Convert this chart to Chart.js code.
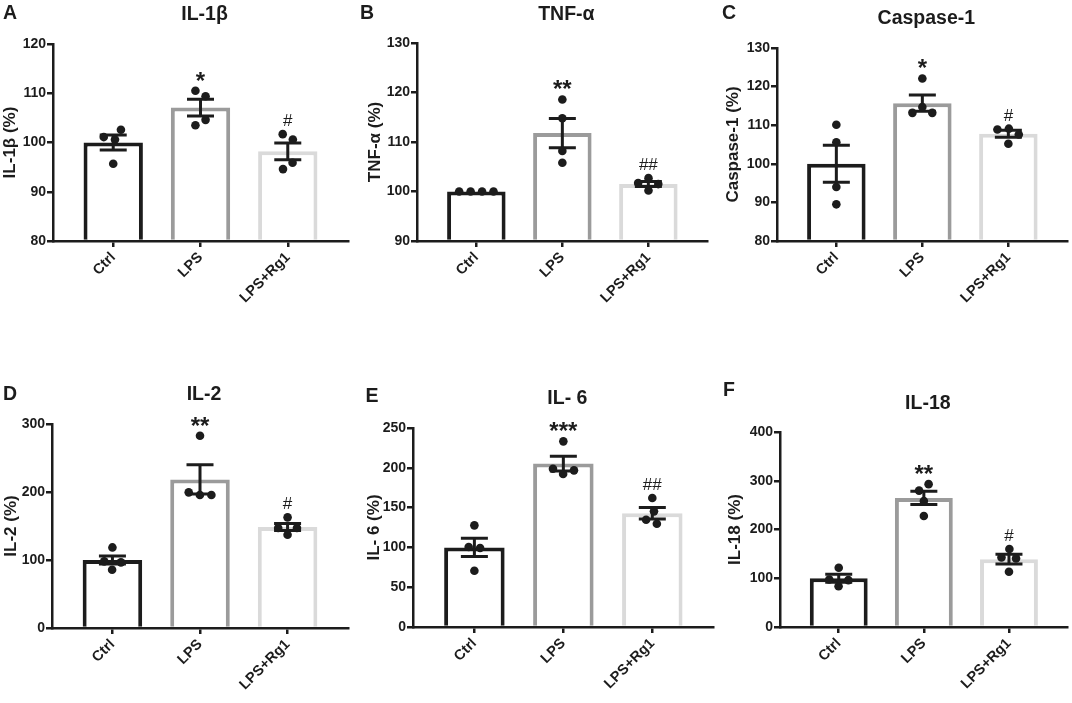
<!DOCTYPE html>
<html><head><meta charset="utf-8">
<script src="https://cdn.jsdelivr.net/npm/chart.js@4.4.1/dist/chart.umd.min.js"></script>
<style>
html,body{margin:0;padding:0;background:#fff;}
#wrap{position:relative;width:1072px;height:703px;overflow:hidden;background:#fff;}
canvas{position:absolute;}
</style></head><body><div id="wrap"></div>
<script>
// ---------------- DATA ----------------
const categories = ['Ctrl', 'LPS', 'LPS+Rg1'];

// A: IL-1β
const il1bTitle = 'IL-1β';
const il1bAxisTitle = 'IL-1β (%)';
const il1bTicks = [80, 90, 100, 110, 120];
const il1bMean = [100.0, 107.1, 98.2];
const il1bSem = [1.5, 1.7, 1.7];
const il1bPoints = [[100.6, 101.1, 102.6, 95.7], [109.4, 110.5, 104.6, 103.5], [100.6, 101.7, 95.9, 94.6]];
const il1bSig = ['', '*', '#'];

// B: TNF-α
const tnfTitle = 'TNF-α';
const tnfAxisTitle = 'TNF-α (%)';
const tnfTicks = [90, 100, 110, 120, 130];
const tnfMean = [100.0, 111.8, 101.5];
const tnfSem = [0, 2.95, 0.5];
const tnfPoints = [[100, 100, 100, 100], [118.6, 114.8, 108.2, 105.8], [102.7, 101.7, 101.5, 100.2]];
const tnfSig = ['', '**', '##'];

// C: Caspase-1
const caspTitle = 'Caspase-1';
const caspAxisTitle = 'Caspase-1 (%)';
const caspTicks = [80, 90, 100, 110, 120, 130];
const caspMean = [100.0, 115.7, 107.8];
const caspSem = [4.8, 2.1, 0.9];
const caspPoints = [[110.1, 105.6, 94.0, 89.5], [122.1, 114.7, 113.2, 113.2], [109.1, 108.9, 107.6, 105.2]];
const caspSig = ['', '*', '#'];

// D: IL-2
const il2Title = 'IL-2';
const il2AxisTitle = 'IL-2 (%)';
const il2Ticks = [0, 100, 200, 300];
const il2Mean = [100.0, 218.4, 148.5];
const il2Sem = [6.0, 21.5, 5.3];
const il2Points = [[118.5, 85.7, 98.0, 96.5], [282.8, 195.6, 199.5, 195.6], [162.7, 137.2, 147.0, 147.0]];
const il2Sig = ['', '**', '#'];

// E: IL- 6
const il6Title = 'IL- 6';
const il6AxisTitle = 'IL- 6 (%)';
const il6Ticks = [0, 50, 100, 150, 200, 250];
const il6Mean = [100.0, 205.3, 143.0];
const il6Sem = [11.5, 9.2, 7.2];
const il6Points = [[127.7, 99.2, 100.5, 70.7], [233.2, 192.2, 198.9, 196.8], [162.1, 145.3, 134.8, 129.8]];
const il6Sig = ['', '***', '##'];

// F: IL-18
const il18Title = 'IL-18';
const il18AxisTitle = 'IL-18 (%)';
const il18Ticks = [0, 100, 200, 300, 400];
const il18Mean = [100.0, 264.8, 139.2];
const il18Sem = [8.0, 13.7, 10.2];
const il18Points = [[121.4, 83.7, 97.5, 96.1], [293.0, 279.8, 258.6, 227.8], [159.9, 142.8, 140.7, 113.2]];
const il18Sig = ['', '**', '#'];

// ---------------- STYLE / LAYOUT ----------------
const FONT = "'Liberation Sans', Arial, Helvetica, sans-serif";
const INK = '#1c1c1c';
const barColors = ['#1c1c1c', '#9b9b9b', '#dadada'];
const XMIN = -0.69, XMAX = 2.69;
const DOT_GAP = 11.5;

const panels = [
  {letter:'A', title:il1bTitle, yTitle:il1bAxisTitle, ticks:il1bTicks, mean:il1bMean, sem:il1bSem, points:il1bPoints, sig:il1bSig,
   box:{x:0,y:0,w:355,h:335}, plot:{l:53,r:348,t:44,b:241}, yTitlePad:0.2, titleY:13.3, letterPos:[10,12]},
  {letter:'B', title:tnfTitle, yTitle:tnfAxisTitle, ticks:tnfTicks, mean:tnfMean, sem:tnfSem, points:tnfPoints, sig:tnfSig,
   box:{x:355,y:0,w:357,h:335}, plot:{l:417,r:709,t:43,b:241}, yTitlePad:10.2, titleY:12.7, letterPos:[367,12]},
  {letter:'C', title:caspTitle, yTitle:caspAxisTitle, ticks:caspTicks, mean:caspMean, sem:caspSem, points:caspPoints, sig:caspSig,
   box:{x:712,y:0,w:360,h:335}, plot:{l:777,r:1068,t:48,b:241}, yTitlePad:10.7, titleY:16.7, letterPos:[729,12]},
  {letter:'D', title:il2Title, yTitle:il2AxisTitle, ticks:il2Ticks, mean:il2Mean, sem:il2Sem, points:il2Points, sig:il2Sig,
   box:{x:0,y:335,w:355,h:368}, plot:{l:52,r:348,t:424,b:628}, yTitlePad:1.0, titleY:393.3, letterPos:[10,393]},
  {letter:'E', title:il6Title, yTitle:il6AxisTitle, ticks:il6Ticks, mean:il6Mean, sem:il6Sem, points:il6Points, sig:il6Sig,
   box:{x:355,y:335,w:363,h:368}, plot:{l:413,r:715,t:428,b:627}, yTitlePad:9.2, titleY:396.7, letterPos:[372,395]},
  {letter:'F', title:il18Title, yTitle:il18AxisTitle, ticks:il18Ticks, mean:il18Mean, sem:il18Sem, points:il18Points, sig:il18Sig,
   box:{x:712,y:335,w:360,h:368}, plot:{l:780,r:1068,t:432,b:627}, yTitlePad:13.2, titleY:401.7, letterPos:[729,389]}
];

// beeswarm-like spreading of replicate dots (pixel offsets computed from the values)
function swarm(values, pxPerY, D) {
  const placed = [];
  values.forEach(v => {
    const y = v * pxPerY;
    const blocks = [];
    placed.forEach(p => {
      const dy = Math.abs(p.y - y);
      if (dy < D) { const h = Math.sqrt(D * D - dy * dy); blocks.push([p.x - h, p.x + h]); }
    });
    const cands = [0];
    blocks.forEach(b => cands.push(b[0], b[1]));
    cands.sort((a, b) => (Math.abs(a) - Math.abs(b)) || (a - b));
    const x = cands.find(c => blocks.every(b => c <= b[0] + 1e-6 || c >= b[1] - 1e-6));
    placed.push({y, x});
  });
  const n = placed.length, parent = [...Array(n).keys()];
  const find = i => parent[i] === i ? i : (parent[i] = find(parent[i]));
  for (let i = 0; i < n; i++) for (let j = i + 1; j < n; j++) {
    const d = Math.hypot(placed[i].x - placed[j].x, placed[i].y - placed[j].y);
    if (d <= D + 1) parent[find(i)] = find(j);
  }
  const groups = {};
  placed.forEach((p, i) => { const r = find(i); (groups[r] = groups[r] || []).push(i); });
  Object.values(groups).forEach(g => {
    const m = g.reduce((s, i) => s + placed[i].x, 0) / g.length;
    g.forEach(i => { placed[i].x -= m; });
  });
  return placed.map(p => p.x);
}

const wrap = document.getElementById('wrap');

panels.forEach(p => {
  const c = document.createElement('canvas');
  c.width = p.box.w; c.height = p.box.h;
  c.style.left = p.box.x + 'px'; c.style.top = p.box.y + 'px';
  c.style.width = p.box.w + 'px'; c.style.height = p.box.h + 'px';
  wrap.appendChild(c);

  const yMin = p.ticks[0], yMax = p.ticks[p.ticks.length - 1];
  const pxPerY = (p.plot.b - p.plot.t) / (yMax - yMin);
  const pxPerX = (p.plot.r - p.plot.l) / (XMAX - XMIN);

  const dots = [];
  p.points.forEach((vals, i) => {
    const offs = swarm(vals, pxPerY, DOT_GAP);
    vals.forEach((v, k) => dots.push({x: i + offs[k] / pxPerX, y: v}));
  });

  const decor = {
    id: 'decor' + p.letter,
    afterDatasetDraw(chart, args) {
      if (args.index !== 0) return;
      const ctx = chart.ctx, xs = chart.scales.x, ys = chart.scales.y;
      ctx.save();
      ctx.strokeStyle = INK; ctx.lineWidth = 3; ctx.lineCap = 'butt';
      p.mean.forEach((m, i) => {
        const s = p.sem[i]; if (!s) return;
        const x = xs.getPixelForValue(i);
        const y1 = ys.getPixelForValue(m + s), y2 = ys.getPixelForValue(m - s);
        ctx.beginPath();
        ctx.moveTo(x, y1); ctx.lineTo(x, y2);
        ctx.moveTo(x - 13.5, y1); ctx.lineTo(x + 13.5, y1);
        ctx.moveTo(x - 13.5, y2); ctx.lineTo(x + 13.5, y2);
        ctx.stroke();
      });
      ctx.restore();
    },
    afterDraw(chart) {
      const ctx = chart.ctx, xs = chart.scales.x, ys = chart.scales.y, ca = chart.chartArea;
      ctx.save();
      ctx.fillStyle = INK; ctx.textAlign = 'center'; ctx.textBaseline = 'alphabetic';
      // significance marks
      p.sig.forEach((s, i) => {
        if (!s) return;
        const top = Math.max(Math.max(...p.points[i]), p.mean[i] + p.sem[i]);
        const cy = ys.getPixelForValue(top) - 14;
        const x = xs.getPixelForValue(i);
        if (s.indexOf('*') >= 0) {
          ctx.font = `bold 24px ${FONT}`;
          ctx.fillText(s, x, cy + 0.5 * 24);
        } else {
          ctx.font = `17px ${FONT}`;
          ctx.fillText(s, x, cy + 0.36 * 17);
        }
      });
      // panel title
      ctx.font = `bold 19.5px ${FONT}`;
      ctx.fillText(p.title, (ca.left + ca.right) / 2 + 4, p.titleY - p.box.y + 0.36 * 19.5);
      // panel letter
      ctx.font = `bold 19.5px ${FONT}`;
      ctx.fillText(p.letter, p.letterPos[0] - p.box.x, p.letterPos[1] - p.box.y + 0.36 * 19.5);
      ctx.restore();
    }
  };

  new Chart(c, {
    type: 'bar',
    data: {
      datasets: [
        {
          type: 'bar',
          data: p.mean.map((m, i) => ({x: i, y: m})),
          base: yMin,
          backgroundColor: '#ffffff',
          borderColor: barColors,
          borderWidth: 4,
          borderSkipped: 'start',
          barPercentage: 0.68,
          categoryPercentage: 1,
          order: 2
        },
        {
          type: 'scatter',
          data: dots,
          pointRadius: 4.3,
          pointBackgroundColor: INK,
          pointBorderWidth: 0,
          order: 1
        }
      ]
    },
    options: {
      responsive: false,
      animation: false,
      events: [],
      layout: {padding: {left: 0, bottom: 0, top: p.plot.t - p.box.y, right: p.box.x + p.box.w - p.plot.r}},
      plugins: {legend: {display: false}, tooltip: {enabled: false}, title: {display: false}},
      scales: {
        x: {
          type: 'linear', min: XMIN, max: XMAX, offset: false,
          afterBuildTicks: s => { s.ticks = [0, 1, 2].map(v => ({value: v})); },
          afterFit: s => { s.height = p.box.y + p.box.h - p.plot.b; },
          ticks: {
            callback: v => categories[v],
            autoSkip: false, maxRotation: 45, minRotation: 45, padding: 2,
            color: INK, font: {family: FONT, size: 14.5, weight: 'bold'}
          },
          grid: {display: true, offset: false, drawOnChartArea: false, drawTicks: true, tickLength: 6, tickWidth: 2.5, tickColor: INK, color: INK, lineWidth: 2.5},
          border: {display: true, color: INK, width: 2.5}
        },
        y: {
          min: yMin, max: yMax,
          afterBuildTicks: s => { s.ticks = p.ticks.map(v => ({value: v})); },
          afterFit: s => { s.width = p.plot.l - p.box.x; },
          ticks: {color: INK, padding: 1, font: {family: FONT, size: 14, weight: 'bold'}},
          grid: {display: true, offset: false, drawOnChartArea: false, drawTicks: true, tickLength: 6, tickWidth: 2.5, tickColor: INK, color: INK, lineWidth: 2.5},
          border: {display: true, color: INK, width: 2.5},
          title: {display: true, text: p.yTitle, color: INK, font: {family: FONT, size: 17, weight: 'bold'}, padding: {top: p.yTitlePad, bottom: 0}}
        }
      }
    },
    plugins: [decor]
  });
});
</script>
</body></html>
